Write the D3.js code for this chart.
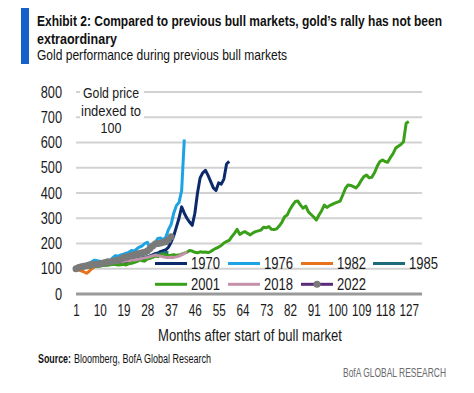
<!DOCTYPE html>
<html><head><meta charset="utf-8">
<script src="https://cdn.jsdelivr.net/npm/d3@7"></script>
<style>
body{margin:0;background:#fff;}
text{font-family:"Liberation Sans",Arial,sans-serif;}
</style></head>
<body><svg id="c" width="474" height="393"></svg>
<script>
const months = d3.range(1, 133);
const tickMonths = d3.range(1, 133, 9);
const yTicks = [0,100,200,300,400,500,600,700,800];

const s1970 = [100,102,104,106,108,110,112,110,112,114,113,115,117,118,120,119,121,122,124,126,125,127,130,133,135,138,140,145,150,155,160,162,168,172,175,185,205,230,265,300,345,320,300,285,272,320,400,460,480,490,470,445,420,410,440,435,455,515,525];
const s1976 = [100,104,108,112,118,122,128,134,132,130,128,130,128,132,145,152,150,155,158,162,165,172,170,178,186,190,200,205,182,190,205,220,222,215,225,255,275,320,350,362,410,612];
const s1982 = [100,95,92,88,82,90,100,108,112,115];
const s1985 = [100,103,105,108,110,112,113,115,117,118,120,121,122,124,125,127,128,130,132,134,135,137,139,140,142,144,146,148,150,152,155,158,160,162,164,163];
const s2001 = [100,98,102,104,106,105,108,110,112,110,113,115,114,116,118,117,115,116,118,115,120,122,125,128,135,132,130,138,141,145,150,148,155,158,155,152,154,156,153,154,158,162,165,172,170,165,163,167,165,166,164,168,175,181,186,192,202,208,212,227,240,256,236,243,247,240,234,242,247,250,253,264,262,267,256,255,258,270,285,306,313,335,352,366,368,352,340,348,325,315,305,293,313,330,352,343,350,355,360,364,368,392,418,432,430,425,420,432,450,465,471,460,462,480,505,524,531,525,522,540,555,577,585,592,603,676,683];
const s2018 = [100,102,104,106,108,110,112,113,115,117,118,120,121,123,124,126,127,128,130,131,132,134,135,137,139,141,143,145,148,151,154,152,150,147,145,145,146,145,147,150,155,160,168];
const s2022 = [100,105,108,110,112,115,116,118,117,120,122,125,128,127,130,133,135,138,145,146,150,152,155,158,160,163,165,170,180,190,198,200,202,205,207,215,227];

const seriesNames = ["1970","1976","1982","1985","2001","2018","2022"];
const seriesValues = [s1970,s1976,s1982,s1985,s2001,s2018,s2022];
const seriesColors = ["#0c2a6b","#1ca3e3","#e8721c","#1d6a7a","#3aa019","#c591a9","#5b2a7a"];

const svg = d3.select("#c");
const x = d3.scalePoint().domain(months).range([76, 422]);
const y = d3.scaleLinear().domain([0, 800]).range([294, 92]);
const fit = (sel, w) => sel.attr("textLength", w).attr("lengthAdjust", "spacingAndGlyphs");
const digitW = 7.1;

// title
svg.append("rect").attr("x",21).attr("y",8).attr("width",8).attr("height",56).attr("fill","#1560c9");
fit(svg.append("text").attr("x",37).attr("y",26).attr("font-size",15.5).attr("font-weight","bold").attr("fill","#111")
  .text("Exhibit 2: Compared to previous bull markets, gold\u2019s rally has not been"), 405);
fit(svg.append("text").attr("x",37).attr("y",44).attr("font-size",15.5).attr("font-weight","bold").attr("fill","#111")
  .text("extraordinary"), 80);
fit(svg.append("text").attr("x",37).attr("y",60).attr("font-size",14.5).attr("fill","#111")
  .text("Gold performance during previous bull markets"), 250);

// grid
svg.append("g").selectAll("line").data(yTicks.filter(d=>d>0)).join("line")
  .attr("x1",76).attr("x2",422).attr("y1",d=>y(d)).attr("y2",d=>y(d))
  .attr("stroke","#d2d2d2").attr("stroke-width",2);
svg.append("line").attr("x1",76).attr("x2",422).attr("y1",y(0)).attr("y2",y(0))
  .attr("stroke","#9a9a9a").attr("stroke-width",3);

// y axis labels
const yAxis = d3.axisLeft(y).tickValues(yTicks).tickSize(0).tickPadding(0);
const gy = svg.append("g").attr("transform","translate(62,0)").call(yAxis);
gy.select(".domain").remove();
gy.selectAll("text").attr("font-size",16).attr("fill","#1a1a1a").attr("font-family",null)
  .each(function(d){ fit(d3.select(this), String(d).length*digitW); });

// x axis labels
const xAxis = d3.axisBottom(x).tickValues(tickMonths).tickSize(0).tickPadding(0);
const gx = svg.append("g").attr("transform","translate(0,305)").call(xAxis);
gx.select(".domain").remove();
gx.selectAll("text").attr("font-size",16).attr("fill","#1a1a1a").attr("font-family",null)
  .each(function(d){ fit(d3.select(this), String(d).length*6.5); });

fit(svg.append("text").attr("x",250).attr("y",341).attr("text-anchor","middle").attr("font-size",16).attr("fill","#1a1a1a")
  .text("Months after start of bull market"), 184);

// lines
const line = d3.line().x((d,i)=>x(i+1)).y(d=>y(d));
seriesValues.forEach((vals,k)=>{
  svg.append("path").attr("d",line(vals)).attr("fill","none")
    .attr("stroke",seriesColors[k]).attr("stroke-width",3).attr("stroke-linejoin","round");
});
svg.append("g").selectAll("circle").data(s2022).join("circle")
  .attr("cx",(d,i)=>x(i+1)).attr("cy",d=>y(d)).attr("r",3.5).attr("fill","#7a7a7a");

// annotation
svg.append("rect").attr("x",80).attr("y",84).attr("width",64).attr("height",52).attr("fill","#fff");
const annW = [56,60,21];
["Gold price","indexed to","100"].forEach((t,i)=>{
  fit(svg.append("text").attr("x",111).attr("y",98+i*17.5).attr("text-anchor","middle").attr("font-size",15.5).attr("fill","#1a1a1a").text(t), annW[i]);
});

// legend
const lx = [155,228,301,373];
const ly = [263.5,284.3];
seriesNames.forEach((n,k)=>{
  const cx = lx[k%4], cy = ly[Math.floor(k/4)];
  svg.append("line").attr("x1",cx).attr("x2",cx+32).attr("y1",cy).attr("y2",cy)
    .attr("stroke",seriesColors[k]).attr("stroke-width",3);
  if(n==="2022") svg.append("circle").attr("cx",cx+16).attr("cy",cy).attr("r",3.5).attr("fill","#7a7a7a");
  fit(svg.append("text").attr("x",cx+36).attr("y",cy).attr("dy","0.36em").attr("font-size",16).attr("fill","#1a1a1a").text(n), 29);
});

// source
fit(svg.append("text").attr("x",38).attr("y",363).attr("font-size",12).attr("font-weight","bold").attr("fill","#111").text("Source:"), 33);
fit(svg.append("text").attr("x",74).attr("y",363).attr("font-size",12).attr("fill","#111").text("Bloomberg, BofA Global Research"), 137);
fit(svg.append("text").attr("x",446).attr("y",377).attr("text-anchor","end").attr("font-size",12).attr("fill","#6b6b6b")
  .text("BofA GLOBAL RESEARCH"), 103);
</script></body></html>
